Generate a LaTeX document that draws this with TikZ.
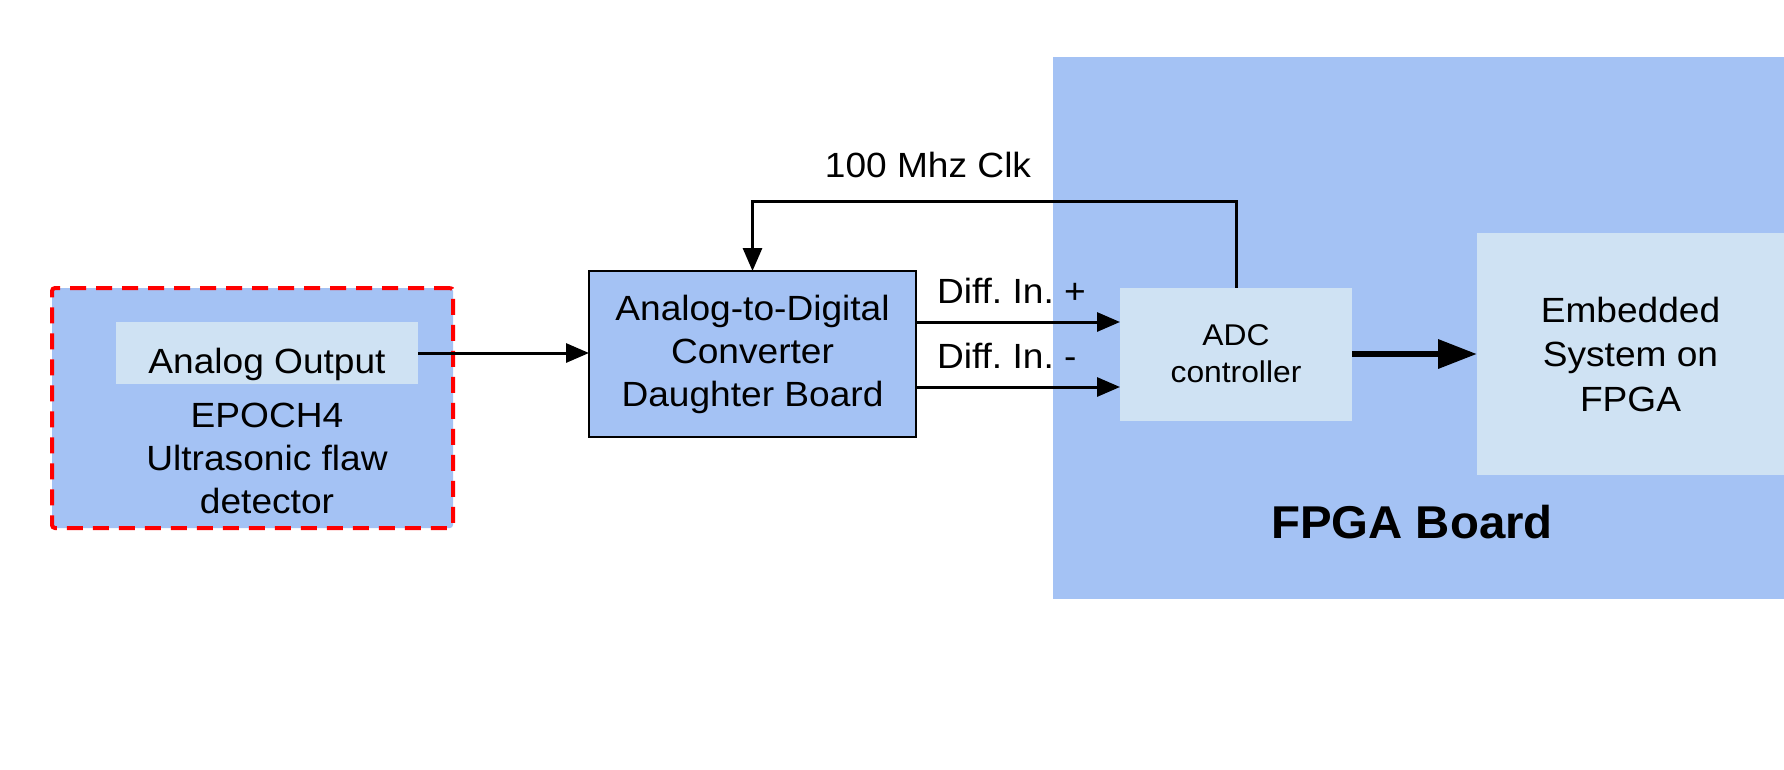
\documentclass[tikz,border=0pt]{standalone}
\usepackage{fontspec}
\setmainfont[FakeStretch=1.06, BoldFeatures={FakeStretch=1.03}]{Liberation Sans}
\usetikzlibrary{arrows.meta}
\definecolor{boardblue}{HTML}{A4C2F4}
\definecolor{paleblue}{HTML}{CFE2F3}
\definecolor{flawred}{HTML}{FF0000}
\frenchspacing
\begin{document}
\begin{tikzpicture}[x=1pt,y=-1pt,
  every node/.style={inner sep=0pt, outer sep=0pt},
  txt/.style={font=\fontsize{35}{43}\selectfont, align=center},
  smalltxt/.style={font=\fontsize{30}{37}\selectfont, align=center},
  box/.style={rectangle, draw=black, line width=1.5pt, fill=boardblue},
  pale/.style={rectangle, fill=paleblue},
  wire/.style={line width=3pt, -{Triangle[length=23pt,width=19pt]}},
  bus/.style={line width=6.5pt, -{Triangle[length=39pt,width=28pt]}},
]
\useasboundingbox (0,0) rectangle (1784,769);
\fill[white] (0,0) rectangle (1784,769);

% FPGA board background
\node[rectangle, fill=boardblue, minimum width=731pt, minimum height=542pt] (fpga) at (1418.5,328) {};
\node[font=\bfseries\fontsize{46}{55}\selectfont, anchor=base] (fpgalbl) at (1412,538) {FPGA Board};

% Ultrasonic flaw detector
\node[rectangle, fill=boardblue, draw=flawred, line width=4pt, dash pattern=on 16pt off 10pt,
      rounded corners=3pt, minimum width=401pt, minimum height=240pt] (epoch) at (252.5,408) {};
\node[pale, minimum width=302pt, minimum height=62pt] (aout) at (267,353) {};
\node[txt, anchor=base] (aoutlbl) at (267,373) {Analog Output};
\node[txt, anchor=north] (epochlbl) at (267,403.5) {EPOCH4\\Ultrasonic flaw\\detector};

% ADC daughter board
\node[box, txt, minimum width=327pt, minimum height=166pt] (adc) at (752.5,354)
  {Analog-to-Digital\\Converter\\Daughter Board};

% Blocks on the FPGA
\node[pale, smalltxt, minimum width=232pt, minimum height=133pt] (ctrl) at (1236,354) {ADC\\controller};
\node[pale, align=center, font=\fontsize{35}{44.5}\selectfont, minimum width=307pt, minimum height=242pt]
  (emb) at (1630.5,354) {Embedded\\System on\\FPGA};

% Connections
\draw[wire] (aout.east) -- (aout.east -| adc.west);

\coordinate (clkturn) at (1236,201);
\draw[wire] (ctrl.north) -- (clkturn) -| (adc.north);
\node[txt, anchor=base] (clklbl) at (928,177) {100 Mhz Clk};

\draw[wire] ([yshift=32pt]adc.east) -- ([yshift=32pt]ctrl.west);
\draw[wire] ([yshift=-33pt]adc.east) -- ([yshift=-33pt]ctrl.west);
\node[txt, anchor=base west] (dplus) at (937,303) {Diff. In. +};
\node[txt, anchor=base west] (dminus) at (937,368) {Diff. In. -};

\draw[bus] (ctrl.east) -- (emb.west);
\end{tikzpicture}
\end{document}
